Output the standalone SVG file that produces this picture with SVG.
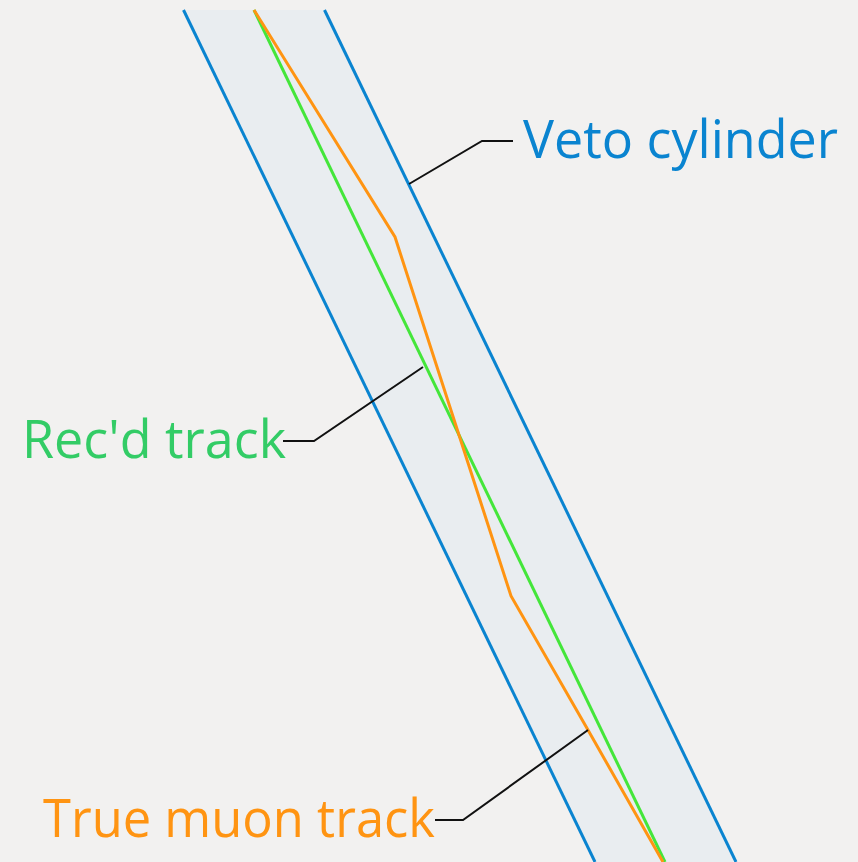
<svg xmlns="http://www.w3.org/2000/svg" width="858" height="862" viewBox="0 0 858 862">
  <style>
    .edge { fill: none; stroke: #0a84d0; stroke-width: 3; }
    .lead { fill: none; stroke: #111; stroke-width: 2; }
    .label { font-family: "Open Sans", "Noto Sans", "DejaVu Sans", sans-serif; font-size: 53px; }
  </style>
  <rect width="858" height="862" fill="#f2f1f0"/>

  <!-- veto cylinder: shaded band with its two walls -->
  <g id="veto-cylinder">
    <polygon points="183.5,10 324.5,10 736,862 595,862" fill="#e9edf0"/>
    <line class="edge" x1="183.5" y1="10" x2="595" y2="862"/>
    <line class="edge" x1="324.5" y1="10" x2="736" y2="862"/>
  </g>

  <!-- reconstructed (straight) track -->
  <g id="reconstructed-track">
    <line x1="254" y1="10" x2="665" y2="862" stroke="#44e63a" stroke-width="3"/>
  </g>

  <!-- true muon path, kinked by scattering -->
  <g id="true-track">
    <polyline points="254,10 395,237 511,596 588,730 663,862" fill="none" stroke="#ff9412" stroke-width="3" stroke-linejoin="miter"/>
  </g>

  <!-- leader lines from labels -->
  <g id="connectors">
    <polyline class="lead" points="409,184 482,141 513,141"/>
    <polyline class="lead" points="283,441 314,441 423,367"/>
    <polyline class="lead" points="435,820 463,820 588,730"/>
  </g>

  <g id="label-veto">
    <text class="label" x="523" y="158" fill="#0a84d0" textLength="315" lengthAdjust="spacingAndGlyphs">Veto cylinder</text>
  </g>
  <g id="label-recd">
    <text class="label" x="22" y="458" fill="#33cc66" textLength="264" lengthAdjust="spacingAndGlyphs">Rec'd track</text>
  </g>
  <g id="label-true">
    <text class="label" x="43" y="837" fill="#ff9412" textLength="392" lengthAdjust="spacingAndGlyphs">True muon track</text>
  </g>
</svg>
